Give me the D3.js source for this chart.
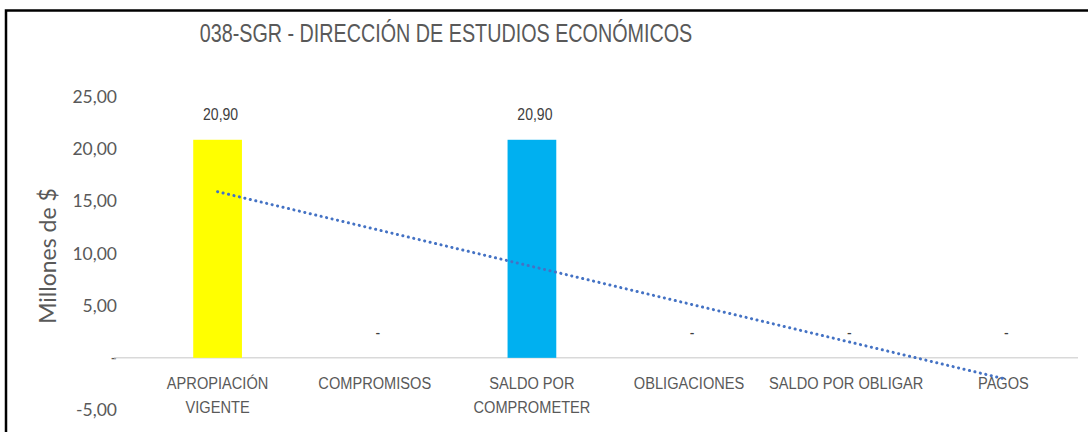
<!DOCTYPE html>
<html>
<head>
<meta charset="utf-8">
<script src="https://cdn.jsdelivr.net/npm/d3@7"></script>
<style>
  body { margin: 0; background: #fff; }
  .narrow { font-family: "Liberation Sans Narrow", "Arial Narrow", "Liberation Sans", sans-serif; }
</style>
</head>
<body>
<div id="chart"></div>
<script>
var svgWidth = 1088;
var svgHeight = 432;

// data
var categories = [["APROPIACIÓN", "VIGENTE"], ["COMPROMISOS"], ["SALDO POR", "COMPROMETER"],
    ["OBLIGACIONES"], ["SALDO POR OBLIGAR"], ["PAGOS"]];
var values = [20.90, 0, 20.90, 0, 0, 0];
var barColors = ["#FFFF00", "#00B0F0", "#00B0F0", "#00B0F0", "#00B0F0", "#00B0F0"];
var yTicks = [-5, 0, 5, 10, 15, 20, 25];

var fmt = function(v) {
    if (v === 0) return "-";
    return d3.format(".2f")(v).replace(".", ",").replace("\u2212", "-");
};

// squeeze text horizontally around its anchor (no narrow font installed)
var squeeze = function(cx, k) {
    return `translate(${cx},0) scale(${k},1) translate(${-cx},0)`;
};

var svg = d3.select("#chart")
    .append("svg")
    .attr("width", svgWidth)
    .attr("height", svgHeight);

// frame (left + top edges visible)
svg.append("path")
    .attr("d", "M6,432 V10.5 H1088")
    .attr("fill", "none")
    .attr("stroke", "#000")
    .attr("stroke-width", 2.5);

var keys = d3.range(categories.length);

var x = d3.scaleBand()
    .domain(keys)
    .range([139, 1082])
    .paddingInner(0.69)
    .paddingOuter(0.345);

var y = d3.scaleLinear()
    .domain([-5, 25])
    .range([410, 97]);

// title
svg.append("text")
    .attr("class", "narrow")
    .attr("x", 446)
    .attr("y", 42)
    .attr("text-anchor", "middle")
    .attr("font-size", 25)
    .attr("fill", "#595959")
    .attr("transform", squeeze(446, 0.79))
    .text("038-SGR - DIRECCIÓN DE ESTUDIOS ECONÓMICOS");

// y axis labels
svg.selectAll(".ytick")
    .data(yTicks)
    .enter()
    .append("text")
    .attr("class", "ytick")
    .attr("x", 117)
    .attr("y", d => y(d))
    .attr("dy", "0.35em")
    .attr("text-anchor", "end")
    .attr("font-family", "Lato, 'Open Sans', sans-serif")
    .attr("font-size", 17.5)
    .attr("fill", "#595959")
    .text(d => fmt(d));

svg.append("text")
    .attr("transform", "translate(56, 256) rotate(-90)")
    .attr("text-anchor", "middle")
    .attr("font-family", "Lato, 'Open Sans', sans-serif")
    .attr("font-size", 23)
    .attr("fill", "#595959")
    .text("Millones de $");

// zero line
svg.append("line")
    .attr("x1", 114)
    .attr("x2", 1078)
    .attr("y1", y(0))
    .attr("y2", y(0))
    .attr("stroke", "#d9d9d9")
    .attr("stroke-width", 1.5);

// bars
svg.selectAll(".bar")
    .data(values)
    .enter()
    .append("rect")
    .attr("class", "bar")
    .attr("x", (d, i) => x(i))
    .attr("width", x.bandwidth())
    .attr("y", d => y(Math.max(d, 0)))
    .attr("height", d => Math.abs(y(d) - y(0)))
    .attr("fill", (d, i) => barColors[i]);

// value labels
svg.selectAll(".vlabel")
    .data(values)
    .enter()
    .append("text")
    .attr("class", "vlabel narrow")
    .attr("x", (d, i) => x(i) + x.bandwidth() / 2 + 3)
    .attr("y", d => y(d) - 20)
    .attr("text-anchor", "middle")
    .attr("font-size", 16.5)
    .attr("fill", "#404040")
    .attr("transform", (d, i) => squeeze(x(i) + x.bandwidth() / 2 + 3, 0.85))
    .text(d => fmt(d));

// category labels
var cat = svg.selectAll(".cat")
    .data(categories)
    .enter()
    .append("text")
    .attr("class", "cat narrow")
    .attr("x", (d, i) => x(i) + x.bandwidth() / 2)
    .attr("y", 389)
    .attr("text-anchor", "middle")
    .attr("font-size", 17)
    .attr("fill", "#595959")
    .attr("transform", (d, i) => squeeze(x(i) + x.bandwidth() / 2, 0.86));

cat.selectAll("tspan")
    .data((d, i) => d.map(t => ({ t: t, i: i })))
    .enter()
    .append("tspan")
    .attr("x", d => x(d.i) + x.bandwidth() / 2)
    .attr("dy", (d, j) => j === 0 ? 0 : 24)
    .text(d => d.t);

// linear trendline (least squares over category index)
var xs = keys.map(i => i + 1);
var mx = d3.mean(xs), my = d3.mean(values);
var slope = d3.sum(xs, (v, i) => (v - mx) * (values[i] - my)) / d3.sum(xs, v => (v - mx) * (v - mx));
var icept = my - slope * mx;
var trend = [1, categories.length].map(v => [x(v - 1) + x.bandwidth() / 2, y(icept + slope * v)]);

svg.append("path")
    .attr("d", d3.line()(trend))
    .attr("fill", "none")
    .attr("stroke", "#4472C4")
    .attr("stroke-width", 3)
    .attr("stroke-linecap", "round")
    .attr("stroke-dasharray", "0.1 5.5");
</script>
</body>
</html>
